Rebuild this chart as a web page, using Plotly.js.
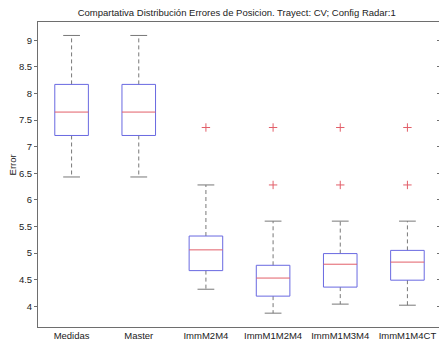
<!DOCTYPE html>
<html>
<head>
<meta charset="utf-8">
<script src="https://cdn.plot.ly/plotly-3.0.1.min.js"></script>
<style>
  html, body { margin: 0; padding: 0; background: #fff; overflow: hidden; }
  #chart { width: 441px; height: 345px; }
</style>
</head>
<body>
<div id="chart"></div>
<script>
// Position error distribution per tracker configuration (box-and-whisker summary)
const categories = ['Medidas', 'Master', 'ImmM2M4', 'ImmM1M2M4', 'ImmM1M3M4', 'ImmM1M4CT'];
const lowerWhisker = [6.43, 6.43, 4.32, 3.87, 4.04, 4.02];
const q1 = [7.21, 7.21, 4.67, 4.19, 4.36, 4.49];
const median = [7.65, 7.65, 5.06, 4.53, 4.79, 4.83];
const q3 = [8.17, 8.17, 5.32, 4.77, 4.99, 5.05];
const upperWhisker = [9.09, 9.09, 6.28, 5.60, 5.60, 5.60];
const outliers = [[], [], [7.36], [7.36, 6.28], [7.36, 6.28], [7.36, 6.28]];
const yTicks = [4, 4.5, 5, 5.5, 6, 6.5, 7, 7.5, 8, 8.5, 9];

const BOX_HALF = 0.25;   // box half-width in category units
const CAP_HALF = 0.125;  // whisker cap half-width
const BLUE = 'rgb(105,105,225)';
const RED = 'rgb(226,95,105)';
const GREY = 'rgb(120,120,120)';
const FONT = 'Liberation Sans, Arial, Helvetica, sans-serif';

const pos = categories.map((_, i) => i + 1);

// box outlines
const boxX = [], boxY = [];
// medians
const medX = [], medY = [];
// dashed whiskers
const whX = [], whY = [];
// whisker caps
const capX = [], capY = [];
// outlier points
const outX = [], outY = [];

pos.forEach((p, i) => {
  boxX.push(p - BOX_HALF, p + BOX_HALF, p + BOX_HALF, p - BOX_HALF, p - BOX_HALF, null);
  boxY.push(q1[i], q1[i], q3[i], q3[i], q1[i], null);
  medX.push(p - BOX_HALF, p + BOX_HALF, null);
  medY.push(median[i], median[i], null);
  whX.push(p, p, null, p, p, null);
  whY.push(q3[i], upperWhisker[i], null, q1[i], lowerWhisker[i], null);
  capX.push(p - CAP_HALF, p + CAP_HALF, null, p - CAP_HALF, p + CAP_HALF, null);
  capY.push(upperWhisker[i], upperWhisker[i], null, lowerWhisker[i], lowerWhisker[i], null);
  outliers[i].forEach(v => { outX.push(p); outY.push(v); });
});

const traces = [
  { x: whX, y: whY, mode: 'lines', line: { color: GREY, width: 1, dash: '4px,3px' }, hoverinfo: 'skip' },
  { x: capX, y: capY, mode: 'lines', line: { color: GREY, width: 1 }, hoverinfo: 'skip' },
  { x: boxX, y: boxY, mode: 'lines', line: { color: BLUE, width: 1 }, hoverinfo: 'skip' },
  { x: medX, y: medY, mode: 'lines', line: { color: RED, width: 1 }, hoverinfo: 'skip' },
  { x: outX, y: outY, mode: 'markers',
    marker: { symbol: 'cross-thin-open', size: 6, color: RED, line: { color: RED, width: 1 } } },
  // carrier for the right-hand tick axis
  { x: [1], y: [null], yaxis: 'y2', mode: 'markers', hoverinfo: 'skip', showlegend: false }
].map(t => Object.assign({ type: 'scatter', showlegend: false }, t));

const yRange = [3.61, 9.343];

const layout = {
  width: 441,
  height: 345,
  margin: { l: 37.5, r: 0, t: 21.7, b: 17.5, pad: 0 },
  paper_bgcolor: '#fff',
  plot_bgcolor: '#fff',
  showlegend: false,
  font: { family: FONT, size: 9.5, color: '#222' },
  title: {
    text: 'Compartativa Distribución Errores de Posicion. Trayect: CV; Config Radar:1',
    font: { family: FONT, size: 9.5, color: '#222' },
    xref: 'container', x: 0.5367, xanchor: 'center',
    yref: 'container', y: 1 - 12.5 / 345, yanchor: 'middle'
  },
  xaxis: {
    range: [0.5, 6.5],
    tickvals: pos,
    ticktext: categories,
    ticks: '',
    showgrid: false,
    zeroline: false,
    showline: true,
    mirror: true,
    linecolor: 'rgb(110,110,110)',
    linewidth: 1,
    tickfont: { family: FONT, size: 9.5, color: '#222' },
    automargin: false,
    fixedrange: true
  },
  yaxis: {
    range: yRange,
    tickvals: yTicks,
    ticks: 'outside',
    ticklen: 3,
    tickcolor: 'rgb(110,110,110)',
    showgrid: false,
    zeroline: false,
    showline: true,
    linecolor: 'rgb(110,110,110)',
    linewidth: 1,
    tickfont: { family: FONT, size: 9.5, color: '#222' },
    automargin: false,
    fixedrange: true
  },
  yaxis2: {
    overlaying: 'y',
    side: 'right',
    range: yRange,
    tickvals: yTicks,
    ticks: 'inside',
    ticklen: 4,
    tickcolor: 'rgb(110,110,110)',
    showticklabels: false,
    showgrid: false,
    zeroline: false,
    showline: false,
    automargin: false,
    fixedrange: true
  },
  annotations: [{
    text: 'Error',
    xref: 'paper', yref: 'paper',
    x: -37.5 / 403.5 + 12 / 403.5,
    y: (327.5 - 165) / 305.8,
    xanchor: 'center', yanchor: 'middle',
    textangle: -90,
    showarrow: false,
    font: { family: FONT, size: 9.5, color: '#222' }
  }]
};

Plotly.newPlot('chart', traces, layout, { staticPlot: true, displayModeBar: false });
</script>
</body>
</html>
